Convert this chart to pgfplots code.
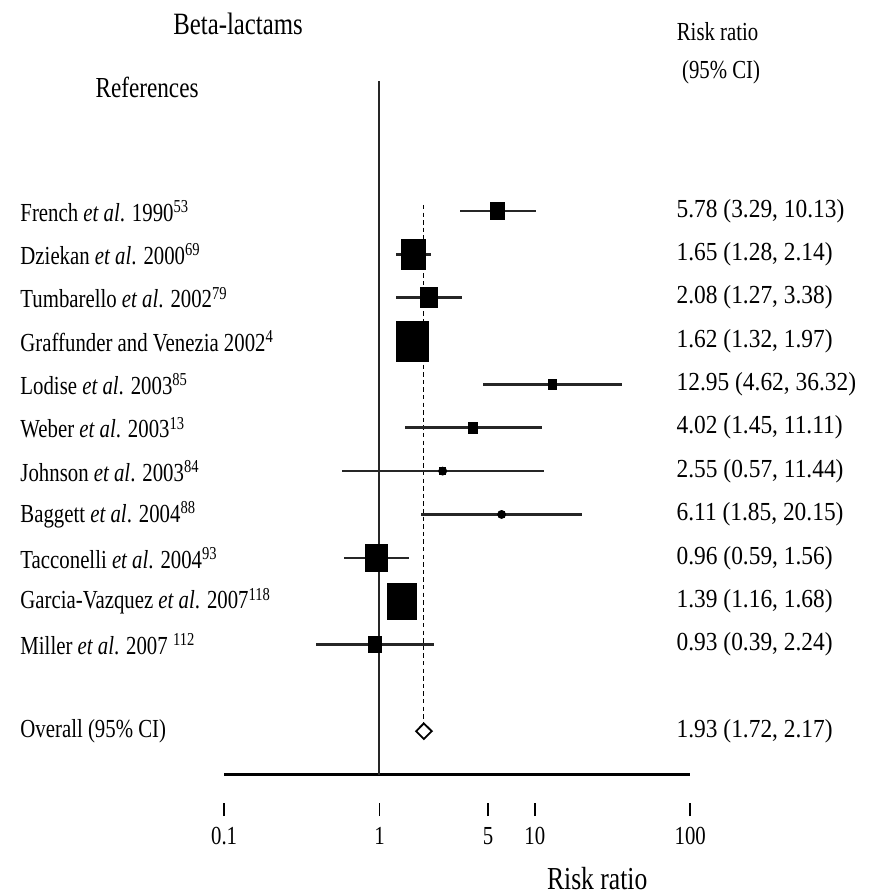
\documentclass[border=0pt]{standalone}
\usepackage{fontspec}
\setmainfont{Liberation Serif}[FakeStretch=0.8]
\newfontfamily\valfont{Liberation Serif}[FakeStretch=0.9]
\usepackage{pgfplots}
\pgfplotsset{compat=1.18}
\usepackage{pgfplotstable}

% y = -row, risk ratio, 95% CI, half-width of the square (pt)
\pgfplotstableread{
y   rr     lo    hi     sz
-1  5.78   3.29  10.13  3.5
-2  1.65   1.28  2.14   6
-3  2.08   1.27  3.38   4
-4  1.62   1.32  1.97   8
-5  12.95  4.62  36.32  2
-6  4.02   1.45  11.11  2.25
-7  2.55   0.57  11.44  1.5
-8  6.11   1.85  20.15  1.2
-9  0.96   0.59  1.56   5.5
-10 1.39   1.16  1.68   7.3
-11 0.93   0.39  2.24   3.3
}\studies

\begin{document}
\begin{tikzpicture}
\fontsize{13}{15.6}\selectfont
\begin{axis}[
  scale only axis, width=233pt, height=382.7pt,
  xmode=log, xmin=0.1, xmax=100, ymin=-14.66, ymax=3,
  clip=false,
  axis y line=none, axis x line*=bottom,
  x axis line style={draw=none},
  xtick={0.1,1,5,10,100}, xticklabels={0.1,1,5,10,100},
  xminorticks=false,
  tick align=outside, major tick length=6.5pt,
  xtick style={line width=0.9pt, black},
  xticklabel style={font=\fontsize{13}{15.6}\selectfont, yshift=-1pt},
]
% reference lines
\addplot[black, line width=1.3pt] coordinates {(0.1,-14)(100,-14)};
\addplot[black!85, line width=1pt] coordinates {(1,-14)(1,2)};
\addplot[black, line width=0.5pt, dash pattern=on 2.2pt off 1.6pt] coordinates {(1.93,-0.86)(1.93,-12.84)};

% confidence intervals
\addplot[black, only marks, mark=none,
  error bars/.cd, x dir=both, x explicit, error mark=none,
  error bar style={line width=1.3pt, black!85}]
  table[x=rr, y=y,
    x error minus expr=\thisrow{rr}-\thisrow{lo},
    x error plus expr=\thisrow{hi}-\thisrow{rr}] {\studies};

% study weights
\addplot[scatter, only marks, mark=square*,
  scatter/use mapped color={draw=black, fill=black},
  visualization depends on={\thisrow{sz} \as \msz},
  scatter/@pre marker code/.append style={/tikz/mark size=\msz pt},
  mark options={yscale=1.25}]
  table[x=rr, y=y] {\studies};

% overall estimate
\addplot[black, fill=white, line width=0.9pt] coordinates
  {(1.72,-13)(1.93,-12.82)(2.17,-13)(1.93,-13.18)} --cycle;

% left column
\begin{scope}[every node/.style={anchor=west, inner sep=0pt}]
\node at (axis cs:0.004861,-1)  {French \textit{et al}. 1990\textsuperscript{53}};
\node at (axis cs:0.004861,-2)  {Dziekan \textit{et al}. 2000\textsuperscript{69}};
\node at (axis cs:0.004861,-3)  {Tumbarello \textit{et al}. 2002\textsuperscript{79}};
\node at (axis cs:0.004861,-4)  {Graffunder and Venezia 2002\textsuperscript{4}};
\node at (axis cs:0.004861,-5)  {Lodise \textit{et al}. 2003\textsuperscript{85}};
\node at (axis cs:0.004861,-6)  {Weber \textit{et al}. 2003\textsuperscript{13}};
\node at (axis cs:0.004861,-7)  {Johnson \textit{et al}. 2003\textsuperscript{84}};
\node at (axis cs:0.004861,-8)  {Baggett \textit{et al}. 2004\textsuperscript{88}};
\node at (axis cs:0.004861,-9)  {Tacconelli \textit{et al}. 2004\textsuperscript{93}};
\node at (axis cs:0.004861,-10) {Garcia-Vazquez \textit{et al}. 2007\textsuperscript{118}};
\node at (axis cs:0.004861,-11) {Miller \textit{et al}. 2007 \textsuperscript{112}};
\node at (axis cs:0.004861,-13) {Overall (95\% CI)};
\end{scope}
% right column
\begin{scope}[every node/.style={anchor=west, inner sep=0pt, font=\valfont}]
\node at (axis cs:81.3,-1)  {5.78 (3.29, 10.13)};
\node at (axis cs:81.3,-2)  {1.65 (1.28, 2.14)};
\node at (axis cs:81.3,-3)  {2.08 (1.27, 3.38)};
\node at (axis cs:81.3,-4)  {1.62 (1.32, 1.97)};
\node at (axis cs:81.3,-5)  {12.95 (4.62, 36.32)};
\node at (axis cs:81.3,-6)  {4.02 (1.45, 11.11)};
\node at (axis cs:81.3,-7)  {2.55 (0.57, 11.44)};
\node at (axis cs:81.3,-8)  {6.11 (1.85, 20.15)};
\node at (axis cs:81.3,-9)  {0.96 (0.59, 1.56)};
\node at (axis cs:81.3,-10) {1.39 (1.16, 1.68)};
\node at (axis cs:81.3,-11) {0.93 (0.39, 2.24)};
\node at (axis cs:81.3,-13) {1.93 (1.72, 2.17)};
\end{scope}
% headers
\node[font=\fontsize{15.5}{18}\selectfont] at (axis cs:0.123,3.31)   {Beta-lactams};
\node[font=\fontsize{14.5}{17}\selectfont] at (axis cs:0.03193,1.84) {References};
\node at (axis cs:150,3.13)     {Risk ratio};
\node at (axis cs:158,2.21)     {(95\% CI)};
\node[font=\fontsize{16}{19}\selectfont] at (axis cs:25.2,-16.39)  {Risk ratio};

\coordinate (bl) at (axis cs:0.003611,-16.778);
\coordinate (tr) at (axis cs:1466.4,3.867);
\end{axis}
\pgfresetboundingbox
\path[use as bounding box] (bl) rectangle (tr);
\end{tikzpicture}
\end{document}
